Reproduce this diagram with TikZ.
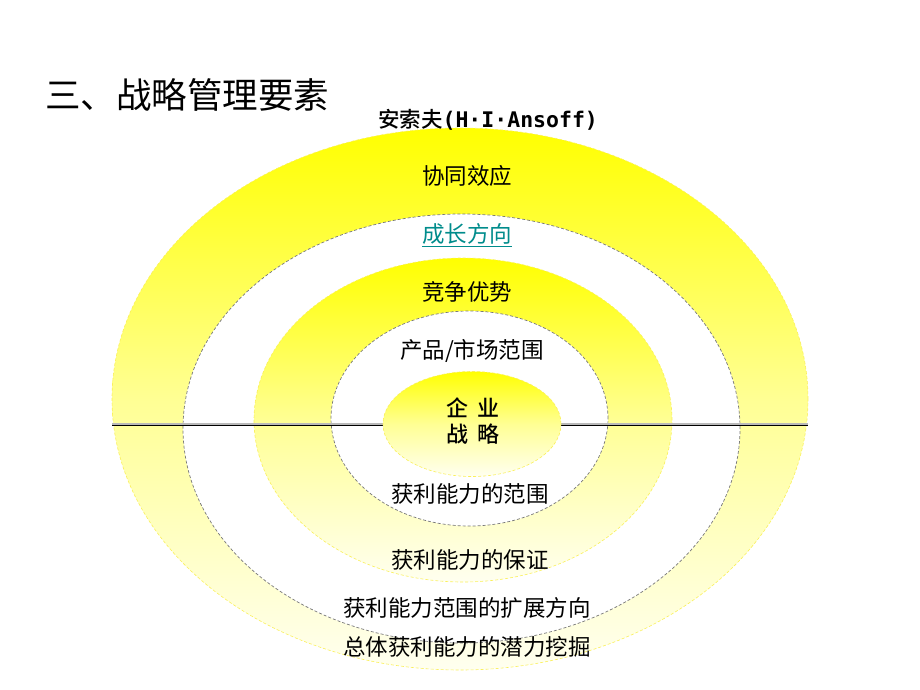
\documentclass[tikz,border=0pt]{standalone}
\usepackage{fontspec}
\setmainfont{Noto Sans CJK SC}[BoldFont={Noto Sans CJK SC Bold}]
\newfontfamily\namefont{DejaVu Sans Mono}
\newfontfamily\heavyfont{Noto Sans CJK SC Medium}
\usetikzlibrary{shapes.geometric}
\definecolor{linkteal}{RGB}{0,140,140}
\definecolor{ringgray}{RGB}{120,120,120}
\definecolor{ringyellow}{RGB}{250,240,90}

\tikzset{
  sunring/.style={ellipse, inner sep=0pt, draw=ringyellow, dash pattern=on 3pt off 2pt,
    line width=0.6pt, top color=yellow, bottom color=yellow!6, middle color=yellow!42},
  gapring/.style={ellipse, inner sep=0pt, draw=ringgray, dash pattern=on 3pt off 2pt,
    line width=0.7pt, fill=white},
  ringtext/.style={font=\fontsize{22.5}{26}\selectfont, inner sep=0pt},
  axisrule/.style={draw=black, line width=0.8pt, double=gray!55, double distance=1.4pt}
}

\begin{document}
\begin{tikzpicture}[x=1pt,y=-1pt]
      \useasboundingbox (0,0) rectangle (920,690);

      \node[sunring, minimum width=696pt, minimum height=542pt] (outer)   at (460,399)   {};
      \node[gapring, minimum width=557pt, minimum height=429pt] (growth)  at (461.5,428.5) {};
      \node[sunring, minimum width=418pt, minimum height=324pt] (compete) at (463,420)   {};
      \node[gapring, minimum width=277pt, minimum height=215pt] (scope)   at (469.5,418.5) {};

      \draw[axisrule] (472,424) ++(-89,0) coordinate (cw) -- (cw -| outer.west);
      \draw[axisrule] (472,424) ++(89,0)  coordinate (ce) -- (ce -| outer.east);

      \node[sunring, minimum width=178pt, minimum height=105pt] (core)    at (472,424)   {};

      \node[font=\fontsize{35.5}{40}\selectfont, anchor=west, inner sep=0pt] (title) at (45,95) {三、战略管理要素};
      \node[ringtext, font=\fontsize{21.5}{26}\selectfont\heavyfont] (ansoff) at (488,120) {安索夫{\namefont\bfseries(H·I·Ansoff)}};
      \node[ringtext] (synergy)  at (467,176) {协同效应};
      \node[ringtext, text=linkteal] (vector) at (467,235) {\underline{成长方向}};
      \node[ringtext] (edge)     at (467,292) {竞争优势};
      \node[ringtext] (market)   at (472,351) {产品/市场范围};
      \node[ringtext, font=\fontsize{22}{26}\selectfont\heavyfont, align=center] (coretxt) at (473,421) {企\hspace{0.4em}业\\战\hspace{0.4em}略};
      \node[ringtext] (range)    at (470,494) {获利能力的范围};
      \node[ringtext] (ensure)   at (470,560) {获利能力的保证};
      \node[ringtext] (expand)   at (467,608) {获利能力范围的扩展方向};
      \node[ringtext] (potential) at (467,647) {总体获利能力的潜力挖掘};
\end{tikzpicture}
\end{document}
